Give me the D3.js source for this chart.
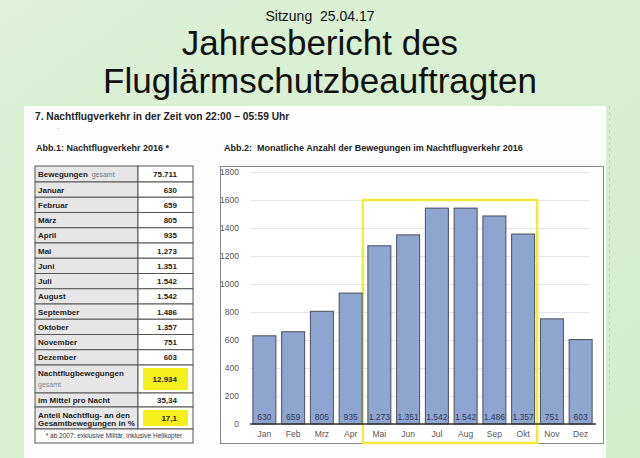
<!DOCTYPE html>
<html>
<head>
<meta charset="utf-8">
<script src="https://cdn.jsdelivr.net/npm/d3@7"></script>
<style>
  body { margin: 0; background: #d7efd0; }
  svg { display: block; }
</style>
</head>
<body>
<div id="chart"></div>
<script>
// data
var months = ["Jan", "Feb", "Mrz", "Apr", "Mai", "Jun", "Jul", "Aug", "Sep", "Okt", "Nov", "Dez"];
var monthNames = ["Januar", "Februar", "März", "April", "Mai", "Juni", "Juli", "August", "September", "Oktober", "November", "Dezember"];
var movements = [630, 659, 805, 935, 1273, 1351, 1542, 1542, 1486, 1357, 751, 603];
var yTicks = [0, 200, 400, 600, 800, 1000, 1200, 1400, 1600, 1800];
var highlighted = ["Mai", "Okt"];
var totalMovements = "75.711";
var nightTotal = "12.934";
var perNight = "35,34";
var nightShare = "17,1";

var fmt = d3.formatLocale({decimal: ",", thousands: ".", grouping: [3], currency: ["", "€"]}).format(",");

var svgWidth = 640, svgHeight = 458;
var svg = d3.select("#chart").append("svg")
  .attr("width", svgWidth)
  .attr("height", svgHeight);

// background
var grad = svg.append("defs").append("linearGradient")
  .attr("id", "bg").attr("x1", 0).attr("y1", 0).attr("x2", 1).attr("y2", 1);
grad.append("stop").attr("offset", "0%").attr("stop-color", "#dcf1d6");
grad.append("stop").attr("offset", "100%").attr("stop-color", "#d2eecb");
svg.append("rect").attr("width", svgWidth).attr("height", svgHeight).attr("fill", "url(#bg)");

// slide titles
svg.append("text")
  .attr("x", 320).attr("y", 21)
  .attr("text-anchor", "middle")
  .style("font-family", "'Liberation Sans Narrow', 'Liberation Sans', sans-serif")
  .style("font-size", "14px")
  .style("white-space", "pre")
  .attr("fill", "#111")
  .text("Sitzung  25.04.17");

svg.append("text")
  .attr("x", 320).attr("y", 55)
  .attr("text-anchor", "middle")
  .style("font-family", "'Liberation Sans Narrow', 'Liberation Sans', sans-serif")
  .style("font-size", "35px")
  .attr("fill", "#111")
  .text("Jahresbericht des");

svg.append("text")
  .attr("x", 320).attr("y", 93)
  .attr("text-anchor", "middle")
  .style("font-family", "'Liberation Sans Narrow', 'Liberation Sans', sans-serif")
  .style("font-size", "35px")
  .attr("fill", "#111")
  .text("Fluglärmschutzbeauftragten");

// white report panel
svg.append("rect")
  .attr("x", 24).attr("y", 106).attr("width", 582).attr("height", 352)
  .attr("fill", "#fdfdfd");
svg.append("line")
  .attr("x1", 609.5).attr("x2", 609.5).attr("y1", 106).attr("y2", 390)
  .attr("stroke", "#b8d8b0").attr("stroke-dasharray", "3,3");

var bold = "'Liberation Sans', Arial, sans-serif";

svg.append("text")
  .attr("x", 35).attr("y", 120)
  .style("font-family", bold).style("font-size", "10.2px").style("font-weight", "bold")
  .attr("fill", "#222")
  .text("7. Nachtflugverkehr in der Zeit von 22:00 – 05:59 Uhr");
svg.append("text")
  .attr("x", 57).attr("y", 129)
  .style("font-family", bold).style("font-size", "7px")
  .attr("fill", "#666")
  .text(".");
svg.append("text")
  .attr("x", 36).attr("y", 151)
  .style("font-family", bold).style("font-size", "9px").style("font-weight", "bold")
  .attr("fill", "#222")
  .text("Abb.1: Nachtflugverkehr 2016 *");
svg.append("text")
  .attr("x", 224).attr("y", 151)
  .style("font-family", bold).style("font-size", "9px").style("font-weight", "bold")
  .style("white-space", "pre")
  .attr("fill", "#222")
  .text("Abb.2:  Monatliche Anzahl der Bewegungen im Nachtflugverkehr 2016");

// ---- table (Abb.1)
var tX = 35, tSep = 138, tR = 193;
var rows = [{label: "Bewegungen", sub: "  gesamt", value: totalMovements, h: 16, center: true}];
monthNames.forEach(function(m, i) {
  rows.push({label: m, value: fmt(movements[i]), h: 15.25});
});
rows.push({label: "Nachtflugbewegungen", sub2: "gesamt", value: nightTotal, h: 28, yellow: true});
rows.push({label: "im Mittel pro Nacht", value: perNight, h: 14});
rows.push({label: "Anteil Nachtflug- an den", label2: "Gesamtbewegungen in %", value: nightShare, h: 22, yellow: true});

var y0 = 166;
rows.forEach(function(r) { r.y = y0; y0 += r.h; });

var table = svg.append("g");
var rowG = table.selectAll("g.row").data(rows).enter().append("g").attr("class", "row");

rowG.append("rect")
  .attr("x", tX).attr("y", d => d.y).attr("width", tSep - tX).attr("height", d => d.h)
  .attr("fill", "#e6e6e6").attr("stroke", "#555").attr("stroke-width", 1);
rowG.append("rect")
  .attr("x", tSep).attr("y", d => d.y).attr("width", tR - tSep).attr("height", d => d.h)
  .attr("fill", "#fff").attr("stroke", "#555").attr("stroke-width", 1);
rowG.filter(d => d.yellow).append("rect")
  .attr("x", 143).attr("y", d => d.y + 3).attr("width", 45).attr("height", d => d.h - 6)
  .attr("fill", "#f6ef1e");

var labelText = rowG.append("text")
  .attr("x", tX + 3)
  .attr("y", d => d.label2 || d.sub2 ? d.y + 11 : d.y + d.h / 2 + 3)
  .style("font-family", bold).style("font-size", "8px").style("font-weight", "bold")
  .style("white-space", "pre")
  .attr("fill", "#222");
labelText.append("tspan").text(d => d.label);
labelText.filter(d => d.sub).append("tspan")
  .style("font-weight", "normal").style("font-size", "7px").attr("fill", "#777")
  .text(d => d.sub);
rowG.filter(d => d.label2).append("text")
  .attr("x", tX + 3).attr("y", d => d.y + 19)
  .style("font-family", bold).style("font-size", "8px").style("font-weight", "bold")
  .attr("fill", "#222")
  .text(d => d.label2);
rowG.filter(d => d.sub2).append("text")
  .attr("x", tX + 3).attr("y", d => d.y + 22)
  .style("font-family", bold).style("font-size", "7px")
  .attr("fill", "#888")
  .text(d => d.sub2);

rowG.append("text")
  .attr("x", d => d.center ? 165 : 177)
  .attr("y", d => d.y + d.h / 2 + 3)
  .attr("text-anchor", d => d.center ? "middle" : "end")
  .style("font-family", bold).style("font-size", "8px").style("font-weight", "bold")
  .attr("fill", "#222")
  .text(d => d.value);

// footnote row
table.append("rect")
  .attr("x", tX).attr("y", y0).attr("width", tR - tX).attr("height", 443 - y0)
  .attr("fill", "#fff").attr("stroke", "#555");
table.append("text")
  .attr("x", (tX + tR) / 2).attr("y", y0 + 9)
  .attr("text-anchor", "middle")
  .style("font-family", bold).style("font-size", "6.5px")
  .attr("fill", "#333")
  .text("* ab 2007: exklusive Militär, inklusive Helikopter");

// ---- bar chart (Abb.2)
svg.append("rect")
  .attr("x", 220.5).attr("y", 166.5).attr("width", 383).attr("height", 277)
  .attr("fill", "#fff").attr("stroke", "#888");

var xScale = d3.scaleBand()
  .domain(months)
  .range([250, 595])
  .paddingInner(0.2)
  .paddingOuter(0.1);

var yScale = d3.scaleLinear()
  .domain([0, 1800])
  .range([424, 172]);

var chartGroup = svg.append("g");

chartGroup.selectAll("line.grid")
  .data(yTicks.slice(1))
  .enter().append("line")
  .attr("class", "grid")
  .attr("x1", 250).attr("x2", 590)
  .attr("y1", d => yScale(d) + 0.5).attr("y2", d => yScale(d) + 0.5)
  .attr("stroke", "#e6e6e6");

var leftAxis = d3.axisLeft(yScale).tickValues(yTicks).tickFormat(d3.format("d")).tickSize(0).tickPadding(0);
chartGroup.append("g")
  .attr("transform", "translate(239,0)")
  .call(leftAxis)
  .call(g => g.select(".domain").remove())
  .selectAll("text")
  .style("font-family", bold).style("font-size", "8.5px")
  .attr("fill", "#555");

// yellow highlight box (Mai - Okt)
var hx0 = xScale(highlighted[0]) - 5;
var hx1 = xScale(highlighted[1]) + xScale.bandwidth() + 2.5;
chartGroup.append("rect")
  .attr("x", hx0).attr("y", 200)
  .attr("width", hx1 - hx0).attr("height", 243)
  .attr("fill", "none").attr("stroke", "#f2ea3c").attr("stroke-width", 2.5);

chartGroup.selectAll("rect.bar")
  .data(movements)
  .enter().append("rect")
  .attr("class", "bar")
  .attr("x", (d, i) => xScale(months[i]))
  .attr("y", d => yScale(d))
  .attr("width", xScale.bandwidth())
  .attr("height", d => yScale(0) - yScale(d))
  .attr("fill", "#8ea5cf")
  .attr("stroke", "#4a4f5c").attr("stroke-width", 1);

chartGroup.selectAll("text.val")
  .data(movements)
  .enter().append("text")
  .attr("class", "val")
  .attr("x", (d, i) => xScale(months[i]) + xScale.bandwidth() / 2)
  .attr("y", 420)
  .attr("text-anchor", "middle")
  .style("font-family", bold).style("font-size", "8.5px")
  .attr("fill", "#2e3b57")
  .text(d => fmt(d));

var bottomAxis = d3.axisBottom(xScale).tickSize(0).tickPadding(7);
chartGroup.append("g")
  .attr("transform", "translate(0,424)")
  .call(bottomAxis)
  .call(g => g.select(".domain").attr("stroke", "#333").attr("stroke-width", 1.5).attr("d", "M250,0H596"))
  .selectAll("text")
  .style("font-family", bold).style("font-size", "8.5px")
  .attr("fill", "#555");
</script>
</body>
</html>
